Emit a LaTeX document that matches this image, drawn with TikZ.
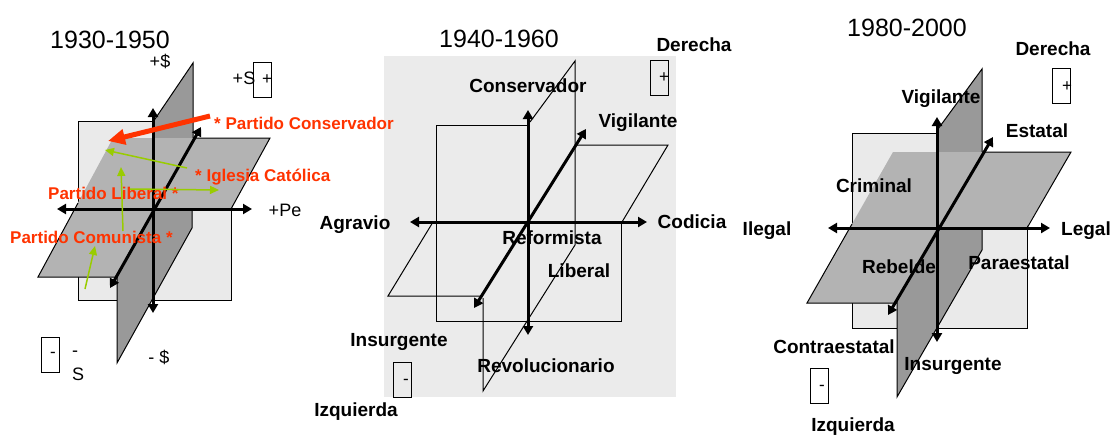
\documentclass[tikz,border=0pt]{standalone}
\usepackage{fontspec}
\setmainfont{Liberation Sans}
\usetikzlibrary{arrows.meta}
\definecolor{lightg}{HTML}{EAEAEA}
\definecolor{midg}{HTML}{B3B3B3}
\definecolor{darkg}{HTML}{999999}
\definecolor{bgtwo}{HTML}{EBEBEB}
\definecolor{redlbl}{HTML}{FF3300}
\definecolor{greenarr}{HTML}{99CC00}
\begin{document}
\begin{tikzpicture}[x=1pt,y=-1pt,
  axis/.style={line width=3pt,{Triangle[length=9pt,width=10pt]}-{Triangle[length=9pt,width=10pt]}},
  plane/.style={line width=1pt,line join=miter},
  titletxt/.style={font=\fontsize{25}{28}\selectfont,inner sep=0pt,text height=18pt,text depth=0pt},
  lbl/.style={font=\fontsize{19}{22}\selectfont\bfseries,inner sep=0pt,text height=13.6pt,text depth=0pt},
  reg/.style={font=\fontsize{18}{21}\selectfont,inner sep=0pt,text height=13pt,text depth=0pt},
  redl/.style={font=\fontsize{17}{20}\selectfont\bfseries,text=redlbl,inner sep=0pt,text height=12.2pt,text depth=0pt},
  signbox/.style={draw,line width=1pt,inner sep=0pt,minimum width=18pt,minimum height=35pt},
  signtxt/.style={font=\fontsize{17}{20}\selectfont,inner sep=0pt},
  greenarrow/.style={draw=greenarr,line width=1.5pt,-{Triangle[length=9pt,width=8pt]}},
  redarrow/.style={draw=redlbl,line width=5pt,-{Triangle[length=17pt,width=15pt]}},
]
\useasboundingbox (0,0) rectangle (1113,437);

% background of panel 2 (drawn first so that panel 1 labels lie on top)
\fill[bgtwo] (384,56) rectangle (676,397);

% ================= Panel 1 : 1930-1950 =================
% frontal plane
\fill[lightg] (78,121) -- (153,121) -- (153,138) -- (231,138) -- (231,300) -- (78,300) -- cycle;
\draw[plane] (153,121) -- (78,121) -- (78,300) -- (231,300) -- (231,138);
% sagittal plane, upper back part
\fill[darkg] (153,122) -- (193,63) -- (193,209) -- (153,209) -- cycle;
\draw[plane] (153,122) -- (193,63) -- (193,209);
% horizontal plane
\fill[midg] (113,138) -- (270,138) -- (194,277) -- (38,277) -- cycle;
\draw[plane] (193,138) -- (270,138) -- (231,209);
\draw[plane] (78,203) -- (38,277) -- (117,277);
% frontal plane, lower right part
\fill[lightg] (153,209) rectangle (231,300);
\draw[plane] (231,209) -- (231,300) -- (153,300);
% sagittal plane, lower front part
\fill[darkg] (153,209) -- (192,209) -- (192,228) -- (117,363) -- (117,275) -- cycle;
\draw[plane] (192,209) -- (192,228) -- (117,363) -- (117,275);
% axes
\coordinate (aTop) at (153,108);
\coordinate (aBot) at (153,313);
\coordinate (aLeft) at (57,209);
\coordinate (aRight) at (252,209);
\coordinate (aBack) at (201,127);
\coordinate (aFront) at (110,288);
\draw[axis] (aBot) -- (aTop);
\draw[axis] (aLeft) -- (aRight);
\draw[axis] (aFront) -- (aBack);
% texts
\node[titletxt] (tA) at (110,39) {1930-1950};
\node[reg] (pdA) at (160,61) {+\$};
\node[reg] (psA) at (244,78) {+S};
\node[signbox] (boxPA) at (262.5,79.5) {};
\node[signtxt] (plusA) at (267,80) {+};
\node[reg] (ppA) at (285,210) {+Pe};
\node[signbox] (boxMA) at (50,354.5) {};
\node[signtxt] (minA) at (53,355) {-};
\node[reg,anchor=west] (msA) at (72,350) {-};
\node[reg,anchor=west] (sA) at (72,374) {S};
\node[reg] (mdA) at (159,357) {- \$};
% red labels
\node[redl,anchor=west] (pcons) at (214,123) {* Partido Conservador};
\node[redl,anchor=west] (igl) at (195,175) {* Iglesia Católica};
\node[redl,anchor=west] (plib) at (48,193) {Partido Liberal *};
\node[redl,anchor=west] (pcom) at (10,237) {Partido Comunista *};
% arrows from labels
\coordinate (rS) at (210,116);
\coordinate (rE) at (108,141);
\draw[redarrow] (rS) -- (rE);
\coordinate (g1s) at (187,168);
\coordinate (g1e) at (105,150);
\draw[greenarrow] (g1s) -- (g1e);
\coordinate (g2s) at (130,189);
\coordinate (g2e) at (219,190);
\draw[greenarrow] (g2s) -- (g2e);
\coordinate (g3s) at (123,231);
\coordinate (g3e) at (121,167);
\draw[greenarrow] (g3s) -- (g3e);
\coordinate (g4s) at (85,289);
\coordinate (g4e) at (95,246);
\draw[greenarrow] (g4s) -- (g4e);

% ================= Panel 2 : 1940-1960 =================
\draw[plane] (527,125) -- (436,125) -- (436,321) -- (621,321) -- (621,222);
\draw[plane] (530,122) -- (575,61) -- (575,245) -- (483,391) -- (483,298);
\draw[plane] (575,145) -- (668,145) -- (622,222);
\draw[plane] (433,222) -- (388,296) -- (482,296);
\coordinate (bTop) at (528,110);
\coordinate (bBot) at (528,335);
\coordinate (bLeft) at (410,222);
\coordinate (bRight) at (647,222);
\coordinate (bBack) at (586,129);
\coordinate (bFront) at (474,308);
\draw[axis] (bBot) -- (bTop);
\draw[axis] (bLeft) -- (bRight);
\draw[axis] (bFront) -- (bBack);
\node[titletxt] (tB) at (499,38) {1940-1960};
\node[lbl] (derB) at (694,45) {Derecha};
\node[signbox] (boxPB) at (659,78) {};
\node[signtxt] (plusB) at (664,78) {+};
\node[lbl] (consB) at (528,86) {Conservador};
\node[lbl] (vigB) at (638,121) {Vigilante};
\node[lbl] (agrB) at (355,223) {Agravio};
\node[lbl] (codB) at (692,222) {Codicia};
\node[lbl] (refB) at (552,238) {Reformista};
\node[lbl] (libB) at (579,271) {Liberal};
\node[lbl] (insB) at (399,340) {Insurgente};
\node[lbl] (revB) at (546,366) {Revolucionario};
\node[signbox] (boxMB) at (402.5,379.5) {};
\node[signtxt] (minB) at (406,382) {-};
\node[lbl] (izqB) at (356,410) {Izquierda};

% ================= Panel 3 : 1980-2000 =================
\fill[lightg] (852,133) -- (937,133) -- (937,152) -- (1027,152) -- (1027,328) -- (852,328) -- cycle;
\draw[plane] (937,133) -- (852,133) -- (852,328) -- (1027,328) -- (1027,152);
\fill[darkg] (938,129) -- (982,69) -- (982,228) -- (938,228) -- cycle;
\draw[plane] (938,129) -- (982,69) -- (982,228);
\fill[midg] (893,152) -- (1071,152) -- (982,303) -- (807,303) -- cycle;
\draw[plane] (982,152) -- (1071,152) -- (1027,228);
\draw[plane] (852,224) -- (807,303) -- (897,303);
\fill[lightg] (937,228) rectangle (1027,328);
\draw[plane] (1027,228) -- (1027,328) -- (937,328);
\fill[darkg] (937,228) -- (982,228) -- (982,250) -- (897,397) -- (897,300) -- cycle;
\draw[plane] (982,228) -- (982,250) -- (897,397) -- (897,300);
\coordinate (cTop) at (937,117);
\coordinate (cBot) at (937,342);
\coordinate (cLeft) at (828,228);
\coordinate (cRight) at (1050,228);
\coordinate (cBack) at (993,137);
\coordinate (cFront) at (888,315);
\draw[axis] (cBot) -- (cTop);
\draw[axis] (cLeft) -- (cRight);
\draw[axis] (cFront) -- (cBack);
\node[titletxt] (tC) at (907,27) {1980-2000};
\node[lbl] (derC) at (1053,49) {Derecha};
\node[signbox] (boxPC) at (1061.5,86) {};
\node[signtxt] (plusC) at (1067,87) {+};
\node[lbl] (vigC) at (941,97) {Vigilante};
\node[lbl] (estC) at (1037,131) {Estatal};
\node[lbl] (crimC) at (874,186) {Criminal};
\node[lbl] (ileC) at (767,229) {Ilegal};
\node[lbl] (legC) at (1086,229) {Legal};
\node[lbl] (rebC) at (899,267) {Rebelde};
\node[lbl] (paraC) at (1019,263) {Paraestatal};
\node[lbl] (contC) at (834,347) {Contraestatal};
\node[lbl] (insC) at (953,364) {Insurgente};
\node[signbox] (boxMC) at (819,385.5) {};
\node[signtxt] (minC) at (822,388) {-};
\node[lbl] (izqC) at (853,425) {Izquierda};
\end{tikzpicture}
\end{document}
